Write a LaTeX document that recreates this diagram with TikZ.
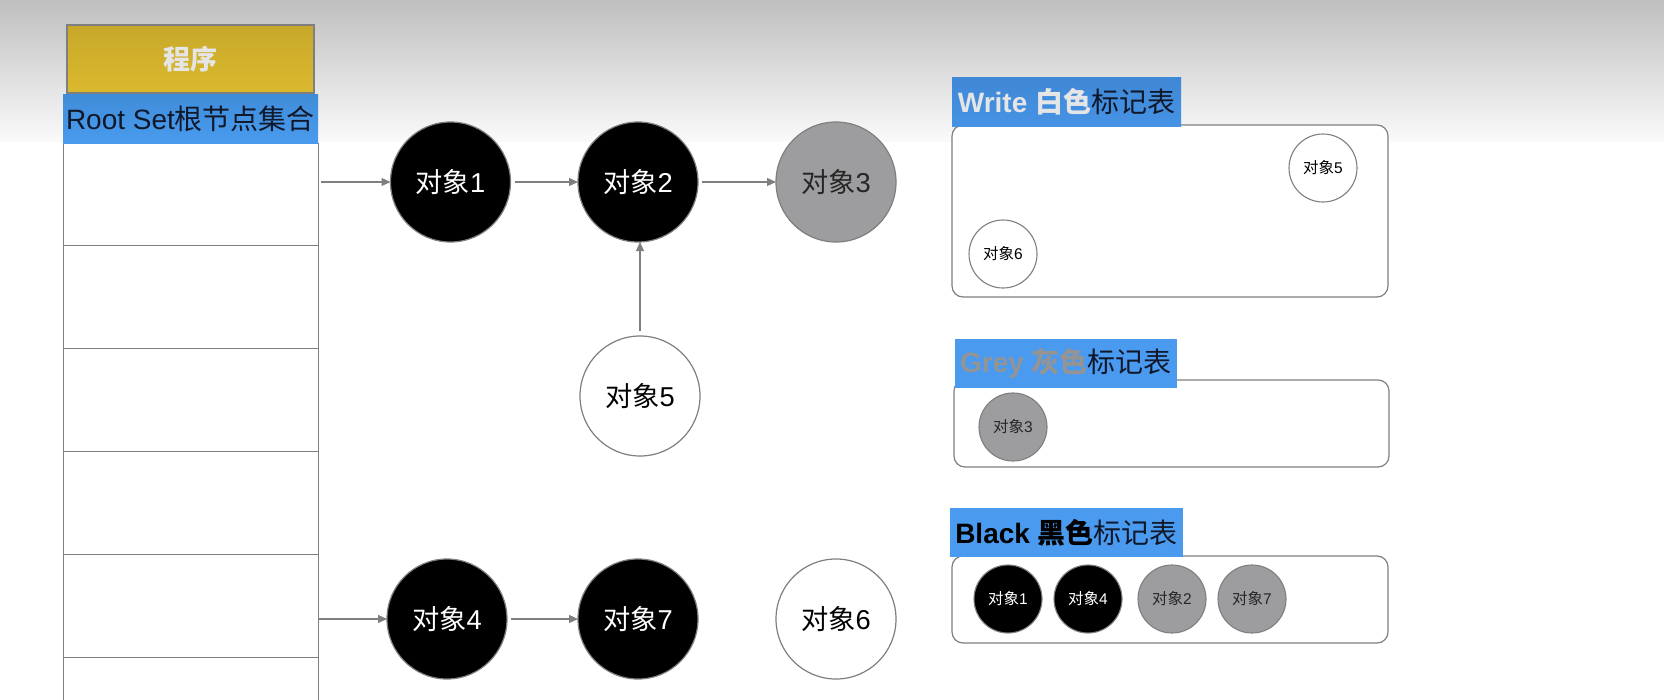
\documentclass[tikz,border=0pt]{standalone}
\usepackage{fontspec}
\setmainfont{Liberation Sans}
\newfontfamily\cjk{Noto Sans CJK SC}
\usetikzlibrary{arrows.meta}
\definecolor{lineg}{HTML}{7F7F7F}
\definecolor{greyc}{HTML}{9D9C9F}
\definecolor{inkb}{HTML}{10182A}
\definecolor{goldt}{HTML}{C8A82A}
\definecolor{goldb}{HTML}{DBB92E}
\definecolor{bluea}{HTML}{3F8CD8}
\definecolor{blueb}{HTML}{4A9BEF}
\definecolor{bluec}{HTML}{3F88D6}
\definecolor{blued}{HTML}{4692E4}
\newcommand{\dx}[1]{{\cjk 对象}#1}
\tikzset{
  x=1pt,y=-1pt,
  every node/.style={inner sep=0pt,outer sep=0pt},
  rowbox/.style={draw=lineg,line width=1pt,fill=white,anchor=north west,minimum width=255pt},
  bigc/.style={circle,draw=lineg,line width=1.2pt,minimum size=120pt,font=\fontsize{27.3}{29}\selectfont},
  smallc/.style={circle,draw=lineg,line width=1.1pt,minimum size=68pt,font=\fontsize{15.5}{17}\selectfont},
  wc/.style={fill=white,text=black},
  gc/.style={fill=greyc,text=black!85},
  kc/.style={fill=black,text=white},
  panel/.style={draw=lineg,line width=1.2pt,fill=white,rounded corners=11pt,anchor=north west},
  tag/.style={anchor=north west,font=\fontsize{28}{30}\selectfont,text=inkb},
  conn/.style={draw=lineg,line width=1.2pt,-{Triangle[length=9pt,width=8pt]},shorten <=4pt},
}
\begin{document}
\begin{tikzpicture}
\useasboundingbox (0,0) rectangle (1664,699);
\clip (0,0) rectangle (1664,699);
\fill[white] (0,0) rectangle (1664,699);
\shade[top color=black!25,bottom color=black!2] (0,0) rectangle (1664,141);
% program column
\node[anchor=north west,draw=lineg,line width=1.2pt,minimum width=247pt,minimum height=68pt,top color=goldt,bottom color=goldb] (prog) at (67,25) {};
\node[text=white!90!black,font=\cjk\bfseries\fontsize{27}{29}\selectfont] (progt) at (prog.center) {程序};
\node[rowbox,minimum height=102pt] (r1) at (63,143) {};
\node[rowbox,minimum height=103pt] (r2) at (63,245) {};
\node[rowbox,minimum height=103pt] (r3) at (63,348) {};
\node[rowbox,minimum height=103pt] (r4) at (63,451) {};
\node[rowbox,minimum height=103pt] (r5) at (63,554) {};
\node[rowbox,minimum height=103pt] (r6) at (63,657) {};
\node[tag,minimum width=255pt,minimum height=49pt,top color=bluea,bottom color=blueb] (root) at (63,94) {Root Set{\cjk 根节点集合}};
% objects
\node[bigc,kc] (o1) at (450.5,182) {\dx{1}};
\node[bigc,kc] (o2) at (638,182) {\dx{2}};
\node[bigc,gc] (o3) at (836,182) {\dx{3}};
\node[bigc,wc] (o5) at (640,396) {\dx{5}};
\node[bigc,kc] (o4) at (447,619) {\dx{4}};
\node[bigc,kc] (o7) at (638,619) {\dx{7}};
\node[bigc,wc] (o6) at (836,619) {\dx{6}};
\coordinate (s1) at (317,182);
\coordinate (s4) at (314,619);
\draw[conn] (s1) -- (o1);
\draw[conn] (o1) -- (o2);
\draw[conn] (o2) -- (o3);
\draw[conn,shorten <=5pt] (o5.north) -- (o5.north |- o2.south);
\draw[conn] (s4) -- (o4);
\draw[conn] (o4) -- (o7);
% panels
\node[panel,minimum width=436pt,minimum height=172pt] (pw) at (952,125) {};
\node[panel,minimum width=435pt,minimum height=87pt] (pg) at (954,380) {};
\node[panel,minimum width=436pt,minimum height=87pt] (pk) at (952,556) {};
\node[tag,minimum width=229pt,minimum height=49pt,top color=bluec,bottom color=blued] (tw) at (952,77) {{\bfseries\color{white!90!black}Write {\cjk 白色}}{\cjk 标记表}};
\node[tag,minimum width=222pt,minimum height=49pt,fill=blueb] (tg) at (955,339) {{\bfseries\color{black!42}Grey {\cjk 灰色}}{\cjk 标记表}};
\node[tag,minimum width=233pt,minimum height=49pt,fill=blueb] (tk) at (950,508) {{\bfseries\color{black}Black {\cjk 黑色}}{\cjk 标记表}};
\node[smallc,wc] (w5) at (1323,168) {\dx{5}};
\node[smallc,wc] (w6) at (1003,254) {\dx{6}};
\node[smallc,gc] (g3) at (1013,427) {\dx{3}};
\node[smallc,kc] (k1) at (1008,599) {\dx{1}};
\node[smallc,kc] (k4) at (1088,599) {\dx{4}};
\node[smallc,gc] (k2) at (1172,599) {\dx{2}};
\node[smallc,gc] (k7) at (1252,599) {\dx{7}};
\end{tikzpicture}
\end{document}
